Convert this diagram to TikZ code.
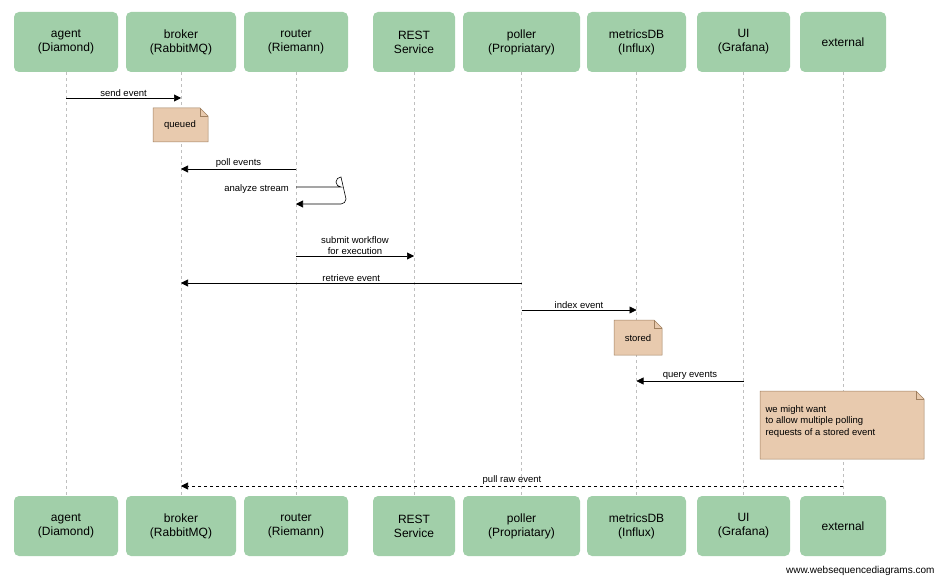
\documentclass[tikz,border=0pt]{standalone}
\usepackage{fontspec}
\setmainfont{Liberation Sans}
\usetikzlibrary{arrows.meta,shapes.misc}
\definecolor{partgreen}{HTML}{A1CFA9}
\definecolor{notefill}{HTML}{E8CAAE}
\definecolor{notedraw}{HTML}{A08060}
\tikzset{
	part/.style={fill=partgreen, rounded corners=5pt, align=center, font=\fontsize{12}{14}\selectfont, inner sep=0pt},
	msg/.style={-{Triangle[length=7pt,width=7pt]}, line width=0.6pt},
	lbl/.style={font=\fontsize{9.5}{11}\selectfont, inner sep=1pt, anchor=south},
	life/.style={dashed, gray!50, line width=0.6pt},
}
\newcommand{\notebox}[5]{% name, x1, y1, x2, y2
	\fill[notefill] (#2,#3) -- (#4-8,#3) -- (#4,#3+8) -- (#4,#5) -- (#2,#5) -- cycle;
	\draw[notedraw, line width=0.5pt] (#2,#3) -- (#4-8,#3) -- (#4,#3+8) -- (#4,#5) -- (#2,#5) -- cycle;
	\draw[notedraw, line width=0.5pt] (#4-8,#3) -- (#4-8,#3+8) -- (#4,#3+8);
	\coordinate (#1) at (#2,#3);
}
\begin{document}
\begin{tikzpicture}[x=1pt,y=-1pt]
		\useasboundingbox (0,0) rectangle (940,580);
		
		%Participants
		\foreach \name/\xa/\xb/\txt in {agent/14/118/{agent\\(Diamond)}, broker/126/236/{broker\\(RabbitMQ)}, router/244/348/{router\\(Riemann)}, rest/373/455/{REST\\Service}, poller/463/580/{poller\\(Propriatary)}, metrics/587/686/{metricsDB\\(Influx)}, ui/697/790/{UI\\(Grafana)}, external/800/886/{external}}{
			\node (\name T) [part, minimum width=(\xb-\xa)*1pt, minimum height=60pt] at ({(\xa+\xb)/2},42) {\txt};
			\node (\name B) [part, minimum width=(\xb-\xa)*1pt, minimum height=60pt] at ({(\xa+\xb)/2},526) {\txt};
			\draw[life] (\name T.south) -- (\name B.north);
		}
		
		%Messages
		\coordinate (a1) at (agentT.south |- 0,98); \coordinate (b1) at (brokerT.south |- 0,98);
		\draw[msg] (a1) -- node[lbl]{send event} (b1);
		
		\notebox{queued}{153}{108}{208}{142}
		\node[font=\fontsize{9.5}{11}\selectfont] (queuedT) at (180,125) {queued};
		
		\coordinate (r2) at (routerT.south |- 0,169); \coordinate (b2) at (brokerT.south |- 0,169);
		\draw[msg] (r2) -- node[lbl]{poll events} (b2);
		
		\coordinate (r3) at (routerT.south |- 0,187); \coordinate (r4) at (routerT.south |- 0,204);
		\draw[msg] (r3) -- (341,187) arc (-90:90:-5) -- (346,199) arc (0:90:5) -- (r4);
		\node[lbl, anchor=south east] (analyzeL) at (290,195) {analyze stream};
		
		\coordinate (r5) at (routerT.south |- 0,256); \coordinate (s5) at (restT.south |- 0,256);
		\draw[msg] (r5) -- node[lbl, align=center]{submit workflow\\for execution} (s5);
		
		\coordinate (p6) at (pollerT.south |- 0,283); \coordinate (b6) at (brokerT.south |- 0,283);
		\draw[msg] (p6) -- node[lbl]{retrieve event} (b6);
		
		\coordinate (p7) at (pollerT.south |- 0,310); \coordinate (m7) at (metricsT.south |- 0,310);
		\draw[msg] (p7) -- node[lbl]{index event} (m7);
		
		\notebox{stored}{614}{320}{662}{355}
		\node[font=\fontsize{9.5}{11}\selectfont] (storedT) at (638,338) {stored};
		
		\coordinate (u8) at (uiT.south |- 0,381); \coordinate (m8) at (metricsT.south |- 0,381);
		\draw[msg] (u8) -- node[lbl]{query events} (m8);
		
		\notebox{might}{760}{391}{924}{459}
		\node[font=\fontsize{9.5}{11.5}\selectfont, align=left, anchor=north west] (mightT) at (762,402) {we might want\\to allow multiple polling\\requests of a stored event};
		
		\coordinate (e9) at (externalT.south |- 0,486); \coordinate (b9) at (brokerT.south |- 0,486);
		\draw[msg, dashed] (e9) -- node[lbl]{pull raw event} (b9);
		
		\node[font=\fontsize{10}{12}\selectfont, anchor=east] (site) at (938,571) {www.websequencediagrams.com};
		
\end{tikzpicture}
\end{document}
